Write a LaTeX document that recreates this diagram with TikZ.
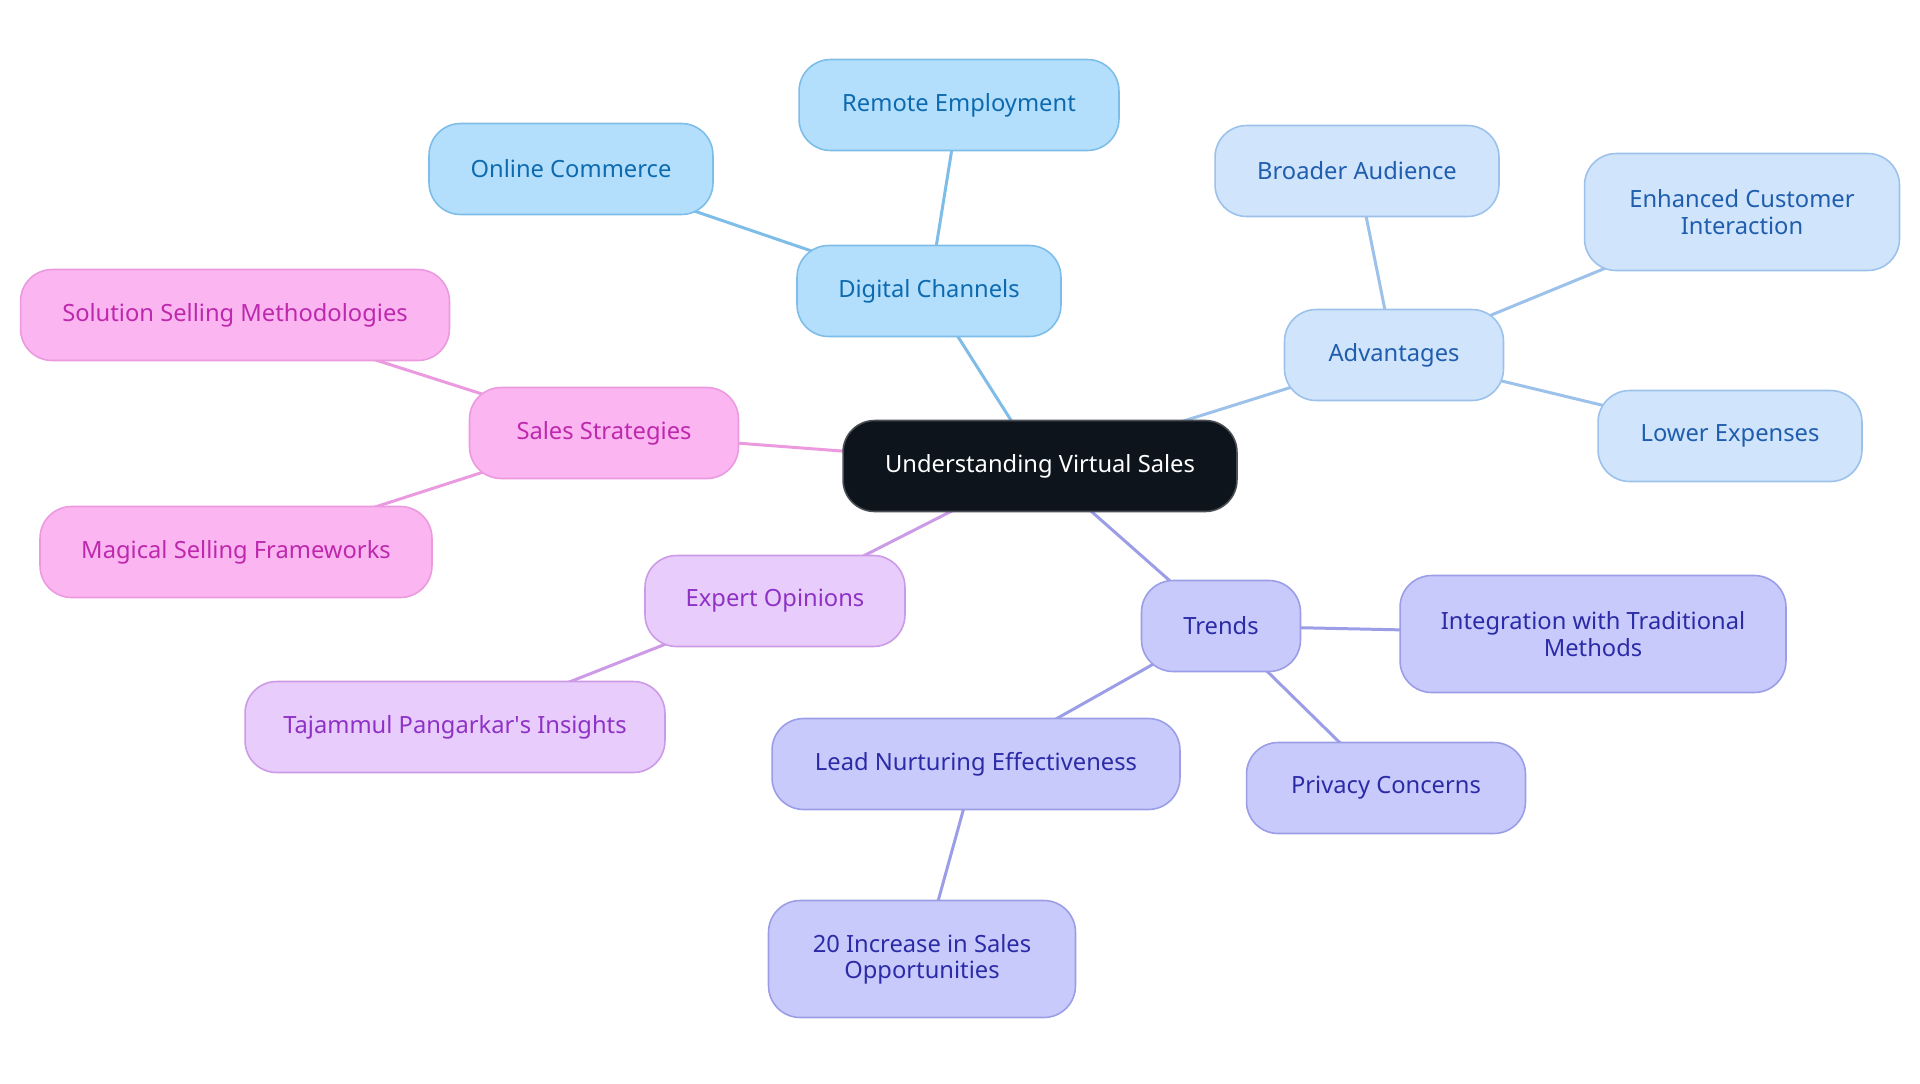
\documentclass[tikz,border=0pt]{standalone}
\usepackage{fontspec}
\setmainfont{Noto Sans}
\usetikzlibrary{positioning, backgrounds}
\definecolor{RootFill}{HTML}{0D141C}
\definecolor{RootLine}{HTML}{4A4F55}
\definecolor{SkyFill}{HTML}{B3DFFD}
\definecolor{SkyLine}{HTML}{7DBDE8}
\definecolor{SkyInk}{HTML}{0E6AAE}
\definecolor{IceFill}{HTML}{D0E4FB}
\definecolor{IceLine}{HTML}{9CC1EA}
\definecolor{IceInk}{HTML}{1F5DAE}
\definecolor{PinkFill}{HTML}{FBB5F1}
\definecolor{PinkLine}{HTML}{EC9ADF}
\definecolor{PinkInk}{HTML}{BE28AD}
\definecolor{LilacFill}{HTML}{E8CCFB}
\definecolor{LilacLine}{HTML}{CC9AE6}
\definecolor{LilacInk}{HTML}{8E32C6}
\definecolor{IndigoFill}{HTML}{C8CAFC}
\definecolor{IndigoLine}{HTML}{9B9DE7}
\definecolor{IndigoInk}{HTML}{2B2BA6}
\begin{document}
\begin{tikzpicture}[x=0.02cm,y=-0.02cm,font=\fontsize{13.5}{15}\selectfont,mapbox/.style={rounded corners=18pt,line width=0.9pt,minimum height=1.82cm,align=center,inner sep=4pt},rootbox/.style={mapbox,draw=RootLine,fill=RootFill,text=white},skybox/.style={mapbox,draw=SkyLine,fill=SkyFill,text=SkyInk},icebox/.style={mapbox,draw=IceLine,fill=IceFill,text=IceInk},pinkbox/.style={mapbox,draw=PinkLine,fill=PinkFill,text=PinkInk},lilacbox/.style={mapbox,draw=LilacLine,fill=LilacFill,text=LilacInk},indigobox/.style={mapbox,draw=IndigoLine,fill=IndigoFill,text=IndigoInk},twoline/.style={minimum height=2.34cm},link/.style={line width=1.7pt}]
\useasboundingbox (0,0) rectangle (1920,1083);
\node[rootbox, minimum width=7.88cm] (root) at (1040,466) {Understanding Virtual Sales};
% digital channels
\node[skybox, minimum width=5.28cm] (digital) at (929,291) {Digital Channels};
\node[skybox, minimum width=5.68cm] (commerce) at (571,169) {Online Commerce};
\node[skybox, minimum width=6.40cm] (remote) at (959,105) {Remote Employment};
% advantages
\node[icebox, minimum width=4.38cm] (advantages) at (1394,355) {Advantages};
\node[icebox, minimum width=5.68cm] (audience) at (1357,171) {Broader Audience};
\node[icebox, twoline, minimum width=6.30cm] (interaction) at (1742,212) {Enhanced Customer\\Interaction};
\node[icebox, minimum width=5.28cm] (expenses) at (1730,436) {Lower Expenses};
% sales strategies
\node[pinkbox, minimum width=5.38cm] (strategies) at (604,433) {Sales Strategies};
\node[pinkbox, minimum width=8.58cm] (solution) at (235,315) {Solution Selling Methodologies};
\node[pinkbox, minimum width=7.84cm] (magical) at (236,552) {Magical Selling Frameworks};
% expert opinions
\node[lilacbox, minimum width=5.20cm] (experts) at (775,601) {Expert Opinions};
\node[lilacbox, minimum width=8.40cm] (insights) at (455,727) {Tajammul Pangarkar\textquotesingle s Insights};
% trends
\node[indigobox, minimum width=3.18cm] (trends) at (1221,626) {Trends};
\node[indigobox, twoline, minimum width=7.72cm] (integration) at (1593,634) {Integration with Traditional\\Methods};
\node[indigobox, minimum width=5.58cm] (privacy) at (1386,788) {Privacy Concerns};
\node[indigobox, minimum width=8.16cm] (nurturing) at (976,764) {Lead Nurturing Effectiveness};
\node[indigobox, twoline, minimum width=6.14cm] (increase) at (922,959) {20 Increase in Sales\\Opportunities};
% links, centre to centre behind the boxes
\begin{scope}[on background layer]
\fill[white] (0,0) rectangle (1920,1083);
\begin{scope}[link]
\draw[SkyLine] (root.center) -- (digital.center);
\draw[SkyLine] (digital.center) -- (commerce.center);
\draw[SkyLine] (digital.center) -- (remote.center);
\draw[IceLine] (root.center) -- (advantages.center);
\draw[IceLine] (advantages.center) -- (audience.center);
\draw[IceLine] (advantages.center) -- (interaction.center);
\draw[IceLine] (advantages.center) -- (expenses.center);
\draw[PinkLine] (root.center) -- (strategies.center);
\draw[PinkLine] (strategies.center) -- (solution.center);
\draw[PinkLine] (strategies.center) -- (magical.center);
\draw[LilacLine] (root.center) -- (experts.center);
\draw[LilacLine] (experts.center) -- (insights.center);
\draw[IndigoLine] (root.center) -- (trends.center);
\draw[IndigoLine] (trends.center) -- (integration.center);
\draw[IndigoLine] (trends.center) -- (privacy.center);
\draw[IndigoLine] (trends.center) -- (nurturing.center);
\draw[IndigoLine] (nurturing.center) -- (increase.center);
\end{scope}
\end{scope}
\end{tikzpicture}
\end{document}
